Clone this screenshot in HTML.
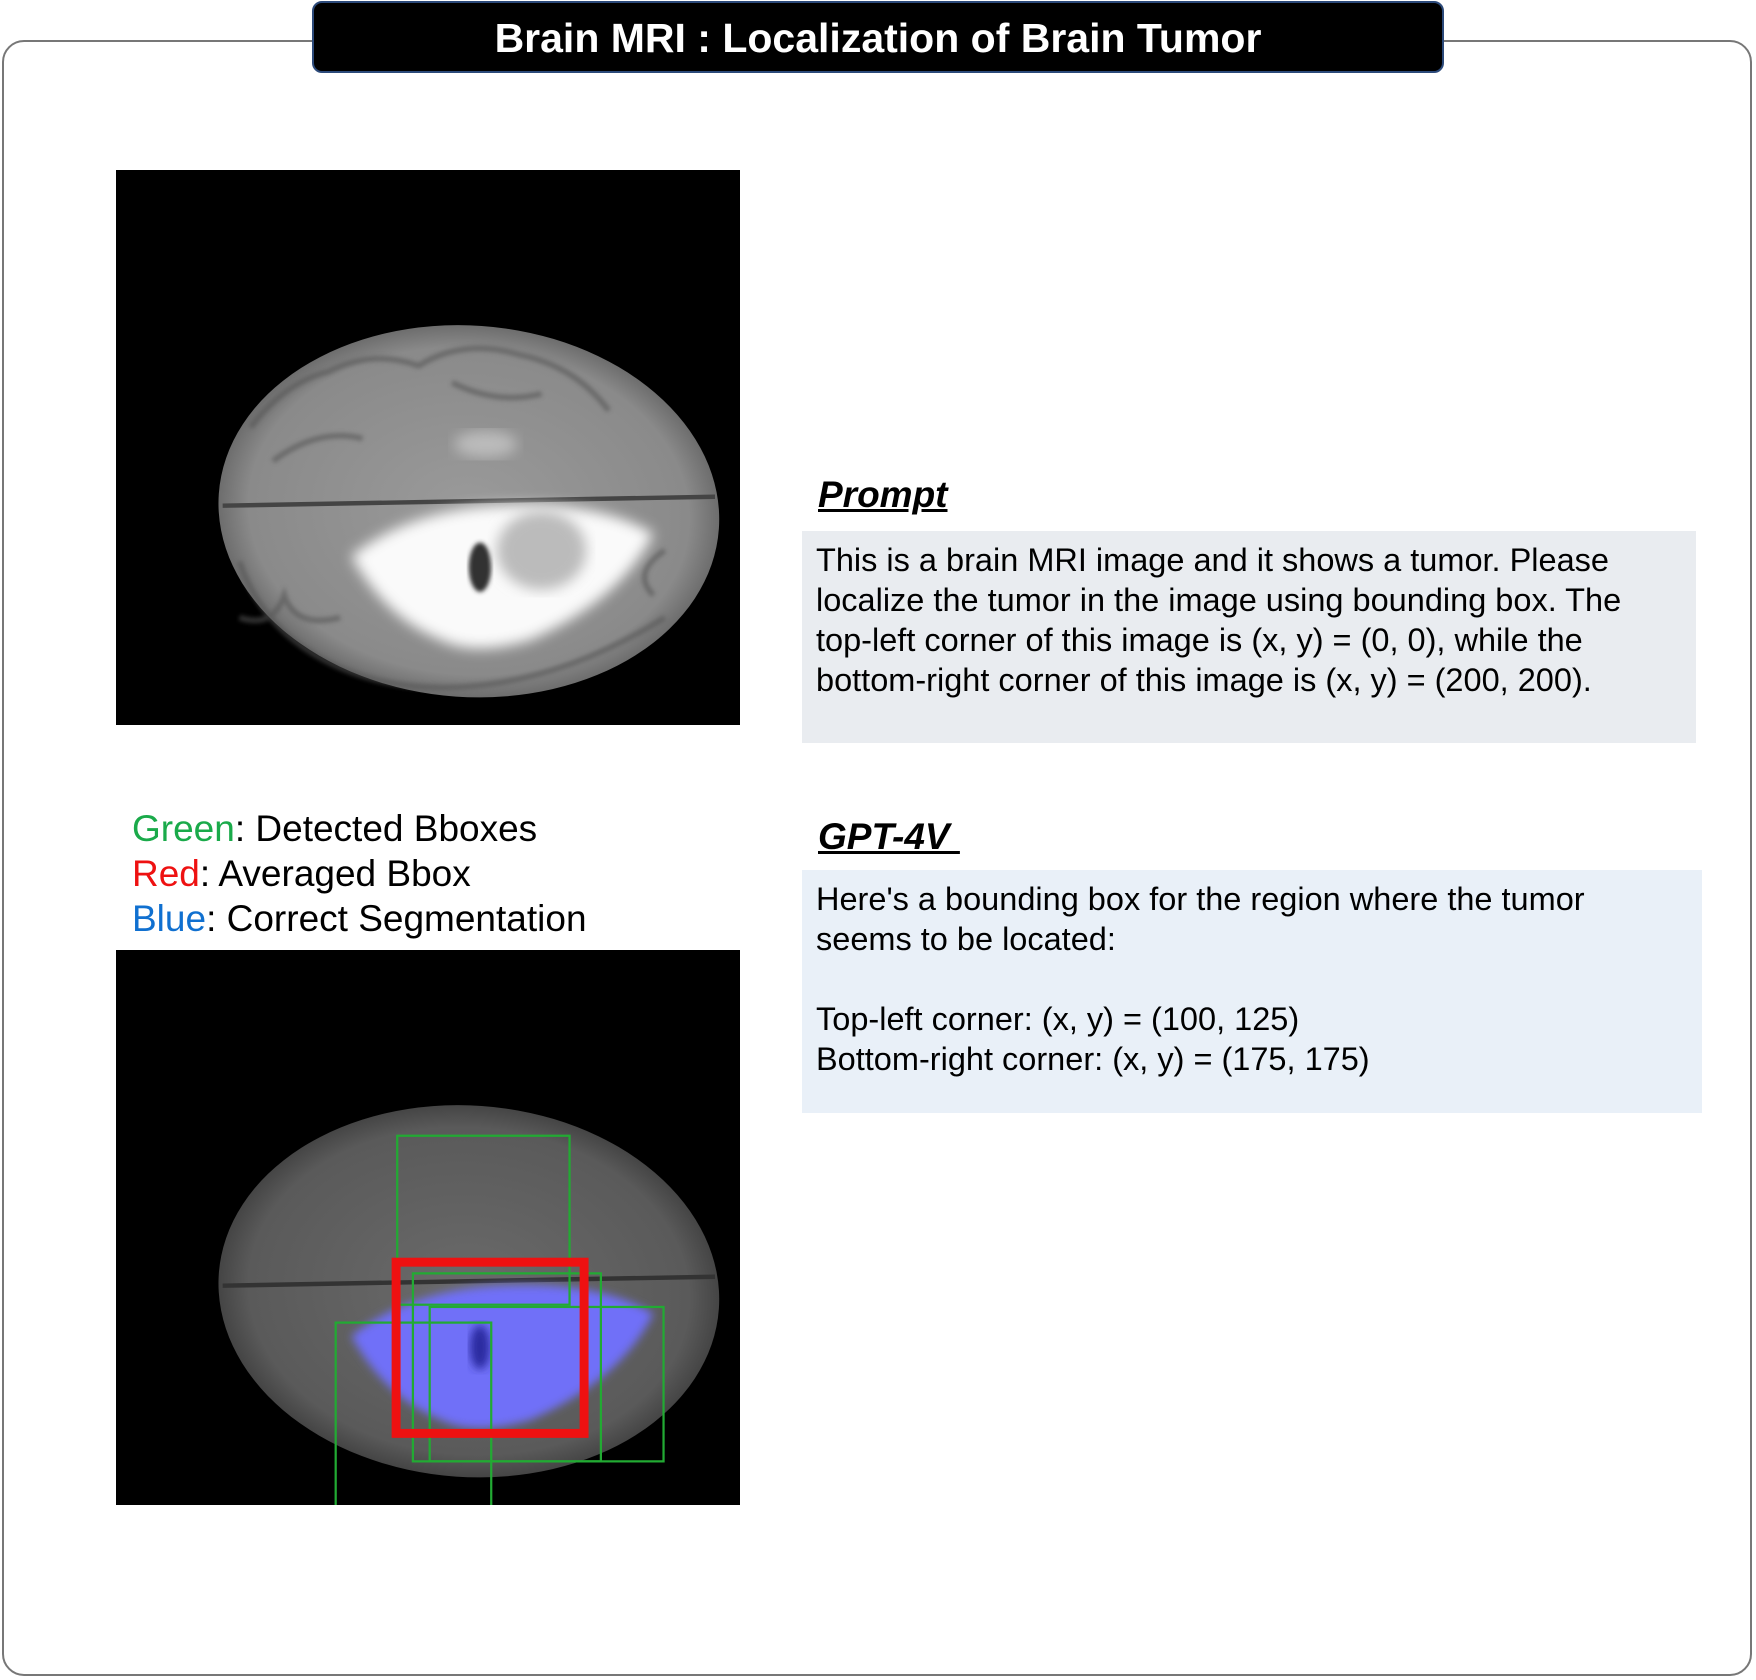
<!DOCTYPE html>
<html><head><meta charset="utf-8"><style>
body{margin:0;width:1756px;height:1680px;background:#fff;position:relative;font-family:"Liberation Sans",sans-serif;overflow:hidden}
.frame{position:absolute;left:2px;top:40px;width:1750px;height:1636px;border:2px solid #777;border-radius:22px;box-sizing:border-box}
.title{position:absolute;left:312px;top:1px;width:1132px;height:72px;background:#000;border:2px solid #2c4a7a;border-radius:10px;box-sizing:border-box;color:#fff;font-weight:bold;font-size:41px;text-align:center;line-height:70px;white-space:nowrap}
.img{position:absolute;left:116px;width:624px;height:555px;background:#000}
.lbl{position:absolute;left:818px;font-weight:bold;font-style:italic;text-decoration:underline;font-size:37px;color:#000}
.box{position:absolute;left:802px;box-sizing:border-box;padding:9px 14px;font-size:32.5px;line-height:40px;color:#000;white-space:nowrap}
.leg{position:absolute;left:132px;top:806px;font-size:37px;line-height:45px}
</style></head><body>
<div class="frame"></div>
<div class="title">Brain MRI : Localization of Brain Tumor</div>

<svg class="img" style="top:170px" viewBox="0 0 557 496">
<defs>
<radialGradient id="g1" cx="50%" cy="50%" r="55%"><stop offset="0" stop-color="#9a9a9a"/><stop offset="0.8" stop-color="#8a8a8a"/><stop offset="1" stop-color="#555"/></radialGradient>
<filter id="bl"><feGaussianBlur stdDeviation="6"/></filter>
<filter id="bl2"><feGaussianBlur stdDeviation="2"/></filter>
</defs>
<ellipse cx="315" cy="305" rx="224" ry="166" fill="url(#g1)" transform="rotate(4 315 305)"/>
<g stroke="#555" stroke-width="5" fill="none" opacity="0.6" filter="url(#bl2)">
<path d="M120 230 q30-40 70-50 q40-20 80-5 q40-25 90-10 q50 10 80 50"/>
<path d="M110 350 q20 60 80 90 q60 30 140 20 q80-10 160-60"/>
<path d="M140 260 q40-30 80-20 M300 190 q40 20 80 10"/>
<path d="M110 400 q30 10 40-20 q10 30 50 20 M480 380 q-20-20 10-40"/>
</g>
<line x1="95" y1="300" x2="535" y2="292" stroke="#444" stroke-width="4"/>
<ellipse cx="330" cy="245" rx="28" ry="12" fill="#bbb" filter="url(#bl)"/>
<path d="M210 345 q50-40 130-45 q90-5 140 25 q-30 60-110 95 q-50 15-80 0 q-50-20-80-75z" fill="#fafafa" filter="url(#bl)"/>
<ellipse cx="325" cy="355" rx="10" ry="22" fill="#333" filter="url(#bl2)"/>
<ellipse cx="380" cy="340" rx="40" ry="35" fill="#bbb" filter="url(#bl)"/>
</svg>

<div class="lbl" style="top:474px">Prompt</div>
<div class="box" style="top:531px;width:894px;height:212px;background:#e9ecf0">This is a brain MRI image and it shows a tumor. Please<br>localize the tumor in the image using bounding box. The<br>top-left corner of this image is (x, y) = (0, 0), while the<br>bottom-right corner of this image is (x, y) = (200, 200).</div>

<div class="leg">
<div><span style="color:#1aaa4a">Green</span>: Detected Bboxes</div>
<div><span style="color:#ee1111">Red</span>: Averaged Bbox</div>
<div><span style="color:#1070d0">Blue</span>: Correct Segmentation</div>
</div>

<div class="lbl" style="top:816px">GPT-4V&nbsp;</div>
<div class="box" style="top:870px;width:900px;height:243px;background:#e9f0f8">Here's a bounding box for the region where the tumor<br>seems to be located:<br><br>Top-left corner: (x, y) = (100, 125)<br>Bottom-right corner: (x, y) = (175, 175)</div>

<svg class="img" style="top:950px" viewBox="0 0 557 496">
<defs>
<radialGradient id="g2" cx="50%" cy="50%" r="55%"><stop offset="0" stop-color="#6a6a6a"/><stop offset="0.8" stop-color="#5a5a5a"/><stop offset="1" stop-color="#333"/></radialGradient>
<filter id="bl3"><feGaussianBlur stdDeviation="4"/></filter>
</defs>
<ellipse cx="315" cy="305" rx="224" ry="166" fill="url(#g2)" transform="rotate(4 315 305)"/>
<line x1="95" y1="300" x2="535" y2="292" stroke="#333" stroke-width="4"/>
<path d="M210 345 q50-40 130-45 q90-5 140 25 q-30 60-110 95 q-50 15-80 0 q-50-20-80-75z" fill="#7070f8" filter="url(#bl3)"/>
<ellipse cx="325" cy="355" rx="9" ry="20" fill="#2a2aa0" filter="url(#bl3)"/>
<g id="boxes"></g>
</svg>
<script>
// boxes in image units (557x496 viewBox): [x0,y0,x1,y1]
const greenX0=[251,265,280,196];
const greenY0=[166,289,319,333];
const greenX1=[405,433,489,335];
const greenY1=[317,457,457,500];
const redBox=[250,279,418,432];
const g=document.getElementById('boxes');
const NS='http://www.w3.org/2000/svg';
for(let i=0;i<greenX0.length;i++){
  const r=document.createElementNS(NS,'rect');
  
  
  r.setAttribute('x',greenX0[i]);r.setAttribute('y',greenY0[i]);
  r.setAttribute('width',greenX1[i]-greenX0[i]);r.setAttribute('height',greenY1[i]-greenY0[i]);
  r.setAttribute('fill','none');r.setAttribute('stroke','#22aa33');r.setAttribute('stroke-width','2');
  g.appendChild(r);
}
const rr=document.createElementNS(NS,'rect');


rr.setAttribute('x',redBox[0]);rr.setAttribute('y',redBox[1]);
rr.setAttribute('width',redBox[2]-redBox[0]);rr.setAttribute('height',redBox[3]-redBox[1]);
rr.setAttribute('fill','none');rr.setAttribute('stroke','#ee1111');rr.setAttribute('stroke-width','8');
g.appendChild(rr);
</script>
</body></html>
